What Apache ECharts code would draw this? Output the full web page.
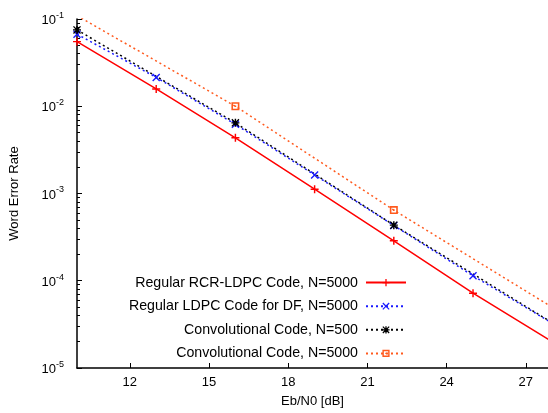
<!DOCTYPE html>
<html>
<head>
<meta charset="utf-8">
<title>Word Error Rate</title>
<script src="https://cdn.jsdelivr.net/npm/echarts@6/dist/echarts.min.js"></script>
<style>
html, body { margin: 0; padding: 0; background: #fff; }
#chart { width: 548px; height: 413px; }
</style>
</head>
<body>
<div id="chart"></div>
<script>
// Eb/N0 points (dB)
var ebn0Fine = [10, 13, 16, 19, 22, 25, 28];
var ebn0Coarse = [10, 16, 22, 28];
var xTicks = [12, 15, 18, 21, 24, 27];

// word error rates
var rcrLdpc = [5.5e-2, 1.58e-2, 4.35e-3, 1.12e-3, 2.87e-4, 7.2e-5, 2.0e-5];
var ldpcDf = [6.7e-2, 2.14e-2, 6.2e-3, 1.63e-3, 4.3e-4, 1.14e-4, 3.26e-5];
var conv500 = [7.5e-2, 6.45e-3, 4.34e-4, 3.3e-5];
var conv5000 = [1.09e-1, 1.0e-2, 6.45e-4, 4.97e-5];

var names = [
	'Regular RCR-LDPC Code, N=5000',
	'Regular LDPC Code for DF, N=5000',
	'Convolutional Code, N=500',
	'Convolutional Code, N=5000'
];

var minorTicks = [];
for (var e = -5; e < -1; e++) {
	for (var m = 2; m <= 9; m++) {
		minorTicks.push(m * Math.pow(10, e));
	}
}

var PLUS = 'path://M4.1,0H5.9V4.1H10V5.9H5.9V10H4.1V5.9H0V4.1H4.1Z';
var CROSS = 'path://M0,1.2L1.2,0L5,3.8L8.8,0L10,1.2L6.2,5L10,8.8L8.8,10L5,6.2L1.2,10L0,8.8L3.8,5Z';
var STAR = 'path://M0,1.2L1.2,0L5,3.8L8.8,0L10,1.2L6.2,5L10,8.8L8.8,10L5,6.2L1.2,10L0,8.8L3.8,5Z' +
	'M4.1,0H5.9V4.1H10V5.9H5.9V10H4.1V5.9H0V4.1H4.1Z';
var BOX = 'path://M0,0H10V10H0ZM2,2V8H8V2ZM4,4H6V6H4Z';

function pairs(xs, ys) {
	return xs.map(function (x, i) { return [x, ys[i]]; });
}

function buildSeries(name, xs, ys, color, symbol, size, lineType, width) {
	return {
		name: name,
		type: 'line',
		data: pairs(xs, ys),
		symbol: symbol,
		symbolSize: size,
		showAllSymbol: true,
		clip: true,
		animation: false,
		itemStyle: { color: color, borderWidth: 0 },
		lineStyle: { color: color, width: width, type: lineType }
	};
}

var axisFont = { fontFamily: 'Liberation Sans', fontSize: 13, color: '#000' };

var option = {
	animation: false,
	backgroundColor: '#fff',
	grid: { left: 74, top: 19, right: 0, bottom: 43.5, containLabel: false },
	legend: {
		orient: 'vertical',
		right: 141,
		top: 275.6,
		align: 'right',
		itemWidth: 40,
		itemHeight: 9,
		itemGap: 9.6,
		padding: 0,
		textStyle: { fontFamily: 'Liberation Sans', fontSize: 14.2, color: '#000', padding: [0, 3, 0, 0] },
		data: names
	},
	xAxis: {
		type: 'value',
		min: 10,
		max: 27.84,
		name: 'Eb/N0 [dB]',
		nameLocation: 'middle',
		nameGap: 27,
		nameTextStyle: axisFont,
		axisLine: { lineStyle: { color: '#000', width: 1.5 } },
		axisTick: { inside: true, length: 5, lineStyle: { color: '#000' }, customValues: xTicks },
		axisLabel: { customValues: xTicks, margin: 8, fontFamily: 'Liberation Sans', fontSize: 13, color: '#000' },
		splitLine: { show: false }
	},
	yAxis: [{
		type: 'log',
		logBase: 10,
		min: 1e-5,
		max: 1e-1,
		name: 'Word Error Rate',
		nameLocation: 'middle',
		nameGap: 56,
		nameTextStyle: axisFont,
		axisLine: { show: true, lineStyle: { color: '#000', width: 1.5 } },
		axisTick: { show: true, inside: true, length: 5, lineStyle: { color: '#000' } },
		axisLabel: {
			margin: 13,
			formatter: function (v) {
				return '{b|10}{s|' + Math.round(Math.log10(v)) + '}';
			},
			rich: {
				b: { fontFamily: 'Liberation Sans', fontSize: 13, color: '#000', lineHeight: 16, verticalAlign: 'bottom' },
				s: { fontFamily: 'Liberation Sans', fontSize: 9, color: '#000', lineHeight: 16, verticalAlign: 'top' }
			}
		},
		splitLine: { show: false }
	}, {
		type: 'log',
		logBase: 10,
		min: 1e-5,
		max: 1e-1,
		position: 'left',
		axisLine: { show: false },
		axisTick: { show: true, inside: true, length: 3, lineStyle: { color: '#000' }, customValues: minorTicks },
		axisLabel: { show: false },
		splitLine: { show: false }
	}],
	series: [
		buildSeries(names[0], ebn0Fine, rcrLdpc, '#ff0000', PLUS, 8, 'solid', 1.5),
		buildSeries(names[1], ebn0Fine, ldpcDf, '#1a1aff', CROSS, 8, [2, 3], 1.5),
		buildSeries(names[2], ebn0Coarse, conv500, '#000000', STAR, 8, [2, 3], 1.5),
		buildSeries(names[3], ebn0Coarse, conv5000, '#ff5a1e', BOX, 8, [2, 3], 1.5)
	]
};

var chart = echarts.init(document.getElementById('chart'));
chart.setOption(option);
</script>
</body>
</html>
